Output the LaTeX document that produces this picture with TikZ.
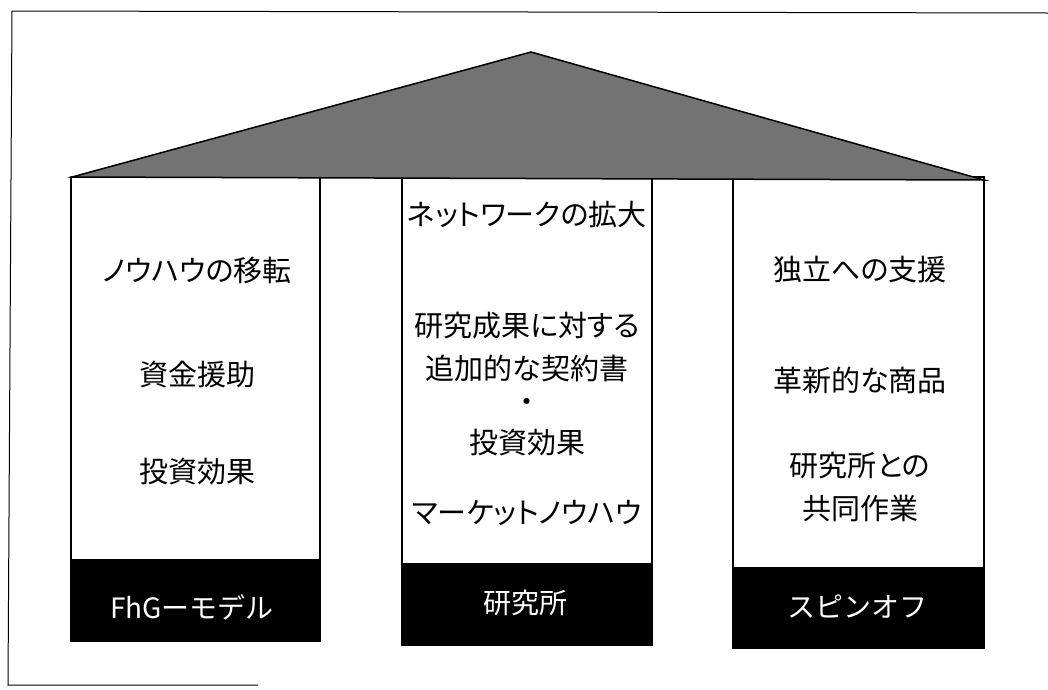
\documentclass[tikz,border=0pt]{standalone}
\usepackage{fontspec}
\newfontfamily\jp{Noto Sans CJK JP}
\newfontfamily\jpp[RawFeature=+palt]{Noto Sans CJK JP}
\begin{document}
\begin{tikzpicture}[x=1pt,y=-1pt,
  pillar/.style={draw=black,line width=1.2pt,fill=white},
  base/.style={draw=black,fill=black,line width=1pt},
  item/.style={align=center,font=\jpp\fontsize{29}{43}\selectfont,text=black,inner sep=0pt},
  lab/.style={font=\jp\fontsize{28}{34}\selectfont,text=white,inner sep=0pt},
  roof/.style={draw=black,line width=1.5pt,fill=black!55}]
\useasboundingbox (0,0) rectangle (1048,689);
% frame
\draw[line width=1pt] (1048,13) -- (12,11) -- (8,685) -- (258,685);
% pillars
\draw[pillar] (71,177) rectangle (320,641);
\draw[pillar] (402,177) rectangle (652,645);
\draw[pillar] (733,177) rectangle (984,648);
% roof
\draw[roof] (72,177) -- (531,52) -- (984,180) -- cycle;
% bases
\node[base,minimum width=250pt,minimum height=82pt,inner sep=0pt] (b1) at (195,600) {};
\node[base,minimum width=250pt,minimum height=82pt,inner sep=0pt] (b2) at (527,604) {};
\node[base,minimum width=251pt,minimum height=81pt,inner sep=0pt] (b3) at (858.5,607.5) {};
\node[lab] (l1) at (192,607) {FhGーモデル};
\node[lab] (l2) at (525,603) {研究所};
\node[lab] (l3) at (857,607) {スピンオフ};
% left pillar
\node[item] (a1) at (197,270) {ノウハウの移転};
\node[item] (a2) at (197,374) {資金援助};
\node[item] (a3) at (197,472) {投資効果};
% middle pillar
\node[item] (m1) at (527,214) {ネットワークの拡大};
\node[item] (m2) at (527,347) {研究成果に対する\\追加的な契約書};
\node[item] (m3) at (527,405) {・};
\node[item] (m4) at (527,443) {投資効果};
\node[item] (m5) at (527,513) {マーケットノウハウ};
% right pillar
\node[item] (r1) at (860,270) {独立への支援};
\node[item] (r2) at (860,380) {革新的な商品};
\node[item] (r3) at (860,487) {研究所との\\共同作業};
\end{tikzpicture}
\end{document}
